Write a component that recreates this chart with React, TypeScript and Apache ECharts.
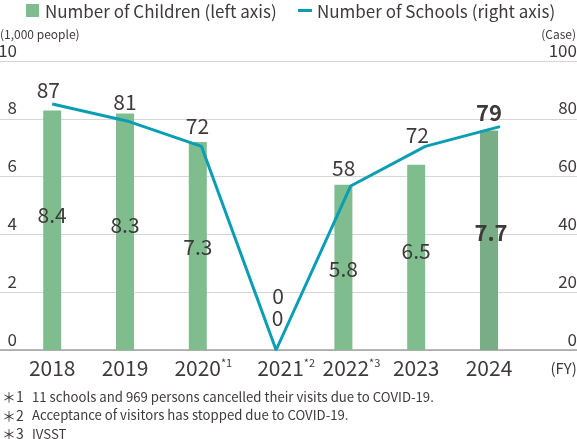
import React, { useEffect, useRef } from "react";
import * as echarts from "echarts";

// ---- data ----
const years = ["2018", "2019", "2020", "2021", "2022", "2023", "2024"];
const yearNotes = ["", "", "*1", "*2", "*3", "", ""];
const childrenThousands = [8.4, 8.3, 7.3, 0, 5.8, 6.5, 7.7];
const schoolCases = [87, 81, 72, 0, 58, 72, 79];
const leftAxisRange = { min: 0, max: 10, interval: 2 };
const rightAxisRange = { min: 0, max: 100, interval: 20 };
const seriesNames = ["Number of Children (left axis)", "Number of Schools (right axis)"];
const axisNames = ["(1,000 people)", "(Case)", "(FY)"];
const noteMarks = ["＊1", "＊2", "＊3"];
const noteTexts = [
  "11 schools and 969 persons cancelled their visits due to COVID-19.",
  "Acceptance of visitors has stopped due to COVID-19.",
  "IVSST",
];

// ---- styling (positions / offsets, not data) ----
const highlightIndex = 6;
const barLabelOffsets = [[0, -16], [0, -8], [0, 0], [7, -33], [0, 1], [0, -7], [2, -9]];
const lineLabelOffsets = [[-4, -15], [-2, -20], [-4, -21], [2, -55], [-7, -19], [-8, -12], [-11, -16]];
const xLabelPads = [0, 0, 11, 31, 16, 0, 0];
// the reference draws its marks on a slightly compressed scale relative to the gridlines
const barScaleMax = 10.14;
const lineScaleMax = 102.2;

const FONT = '"Noto Sans CJK JP", "Noto Sans", sans-serif';
const TEXT = "#3e3a39";
const BAR = "#7fbd8e";
const BAR_HI = "#79ad85";
const LINE = "#0a9eb5";

export default function App() {
  const ref = useRef<HTMLDivElement>(null);
  useEffect(() => {
    if (!ref.current) return;
    const chart = echarts.init(ref.current, null, { renderer: "svg" });

    const rich: Record<string, any> = {
      a: { fontSize: 21, lineHeight: 22, fontFamily: FONT, color: TEXT, verticalAlign: "top" },
      s: { fontSize: 11, lineHeight: 16, fontFamily: FONT, color: TEXT, verticalAlign: "top" },
    };
    xLabelPads.forEach((p, i) => {
      rich["p" + i] = { width: p, lineHeight: 22 };
    });

    const gridBase = { top: 61, bottom: 89, outerBoundsMode: "none" };
    const tickLabel = {
      verticalAlign: "bottom",
      fontSize: 17,
      lineHeight: 18,
      padding: [0, 0, 3, 0],
      color: TEXT,
      fontFamily: FONT,
    };

    const option: any = {
      animation: false,
      textStyle: { fontFamily: FONT, color: TEXT },
      legend: [
        {
          data: [seriesNames[0]],
          left: 26,
          top: 2,
          padding: 0,
          itemWidth: 13,
          itemHeight: 13,
          icon: "rect",
          textStyle: { fontSize: 17, lineHeight: 14, color: TEXT, fontFamily: FONT, padding: [0, 0, 0, 1] },
          selectedMode: false,
        },
        {
          data: [seriesNames[1]],
          left: 298,
          top: 2,
          padding: 0,
          itemWidth: 14,
          itemHeight: 3,
          icon: "rect",
          textStyle: { fontSize: 17, lineHeight: 14, color: TEXT, fontFamily: FONT },
          selectedMode: false,
        },
      ],
      grid: [
        { left: 0, right: 0, ...gridBase },
        { left: 15.8, right: 51.6, ...gridBase },
        { left: 15, right: 39.8, ...gridBase },
        { left: 17, right: 0, ...gridBase },
      ],
      xAxis: [
        {
          gridIndex: 0,
          type: "value",
          min: 0,
          max: 1,
          axisLine: { show: true, lineStyle: { color: "#a0a0a0", width: 1.5 } },
          axisTick: { show: false },
          axisLabel: { show: false },
          splitLine: { show: false },
        },
        {
          gridIndex: 1,
          type: "category",
          data: years,
          axisLine: { show: false },
          axisTick: { show: false },
          axisLabel: {
            margin: 6,
            interval: 0,
            rich,
            formatter: (v: string, i: number) =>
              yearNotes[i]
                ? `{p${i}| }{a|${v}}{s|${yearNotes[i]}}`
                : `{a|${v}}`,
          },
          name: axisNames[2],
          nameLocation: "end",
          nameGap: 25,
          nameTextStyle: {
            fontSize: 15,
            color: TEXT,
            fontFamily: FONT,
            verticalAlign: "top",
            lineHeight: 34,
          },
        },
        { gridIndex: 2, type: "category", data: years, show: false },
        { gridIndex: 3, type: "value", min: 0, max: 1, show: false },
      ],
      yAxis: [
        {
          gridIndex: 0,
          type: "value",
          position: "left",
          ...leftAxisRange,
          axisLine: { show: false },
          axisTick: { show: false },
          axisLabel: { show: false },
          splitLine: { show: true, lineStyle: { color: "#d6d6d6", width: 1 } },
        },
        {
          gridIndex: 0,
          type: "value",
          position: "right",
          ...rightAxisRange,
          axisLine: { show: false },
          axisTick: { show: false },
          splitLine: { show: false },
          axisLabel: { ...tickLabel, inside: true, margin: 0, align: "right" },
        },
        { gridIndex: 1, type: "value", min: 0, max: barScaleMax, show: false },
        { gridIndex: 2, type: "value", min: 0, max: lineScaleMax, show: false },
        {
          gridIndex: 3,
          type: "value",
          position: "left",
          ...leftAxisRange,
          axisLine: { show: false },
          axisTick: { show: false },
          splitLine: { show: false },
          axisLabel: { ...tickLabel, inside: false, margin: 0, align: "right" },
        },
      ],
      series: [
        {
          name: seriesNames[0],
          type: "bar",
          xAxisIndex: 1,
          yAxisIndex: 2,
          barWidth: 18,
          color: BAR,
          label: {
            show: true,
            position: "inside",
            fontSize: 21,
            color: TEXT,
            fontFamily: FONT,
          },
          data: childrenThousands.map((v, i) => ({
            value: v,
            itemStyle: { color: i === highlightIndex ? BAR_HI : BAR },
            label: {
              offset: barLabelOffsets[i],
              fontWeight: i === highlightIndex ? "bold" : "normal",
              fontSize: i === highlightIndex ? 22 : 21,
            },
          })),
        },
        {
          name: seriesNames[1],
          type: "line",
          xAxisIndex: 2,
          yAxisIndex: 3,
          color: LINE,
          clip: false,
          symbol: "circle",
          symbolSize: 1,
          showSymbol: true,
          lineStyle: { color: LINE, width: 3 },
          itemStyle: { color: LINE },
          label: {
            show: true,
            position: "inside",
            fontSize: 21,
            color: TEXT,
            fontFamily: FONT,
          },
          data: schoolCases.map((v, i) => ({
            value: v,
            label: {
              offset: lineLabelOffsets[i],
              fontWeight: i === highlightIndex ? "bold" : "normal",
              fontSize: i === highlightIndex ? 22 : 21,
            },
          })),
          z: 5,
        },
      ],
      graphic: [
        {
          type: "text",
          x: 0,
          y: 33,
          style: { text: axisNames[0], fontSize: 12, fontFamily: FONT, fill: TEXT, verticalAlign: "middle", align: "left" },
        },
        {
          type: "text",
          x: 576,
          y: 33,
          style: { text: axisNames[1], fontSize: 12, fontFamily: FONT, fill: TEXT, verticalAlign: "middle", align: "right" },
        },
        ...noteMarks.flatMap((m, i) => [
          {
            type: "text",
            x: 2,
            y: 396 + i * 18.5,
            style: { text: m, fontSize: 14, fontFamily: FONT, fill: TEXT, verticalAlign: "middle" },
          },
          {
            type: "text",
            x: 32,
            y: 396 + i * 18.5,
            style: { text: noteTexts[i], fontSize: 13.2, fontFamily: FONT, fill: TEXT, verticalAlign: "middle" },
          },
        ]),
      ],
    };

    chart.setOption(option);
    return () => chart.dispose();
  }, []);

  return (
    <div
      ref={ref}
      style={{ position: "fixed", left: 0, top: 0, width: 577, height: 439 }}
    />
  );
}
